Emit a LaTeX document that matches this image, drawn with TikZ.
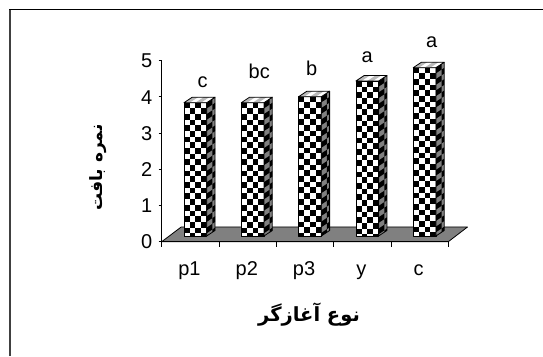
\documentclass[tikz,border=0pt]{standalone}
\usepackage{fontspec}
\setmainfont{Liberation Sans}
\newfontfamily\arabicfont[Script=Arabic]{DejaVu Sans}
\TeXXeTstate=1
\tikzset{
  lab/.style={font=\fontsize{20}{24}\selectfont, inner sep=0pt},
  fa/.style={font=\arabicfont\bfseries\fontsize{19.5}{23}\selectfont, inner sep=0pt},
  fay/.style={font=\arabicfont\bfseries\fontsize{17}{20}\selectfont, inner sep=0pt},
  edge/.style={draw=black, line width=0.8pt, line join=round},
}
\newcommand\cellsz{5.675}
% #1 left x of front face, #2 top Y of front face
\newcommand\chartbar[2]{%
  % front face
  \begin{scope}
    \clip (#1,120) rectangle ({#1+22.7},#2);
    \fill[white] (#1,120) rectangle ({#1+22.7},#2);
    \foreach \j in {0,...,30}{
      \foreach \i in {0,...,3}{
        \pgfmathtruncatemacro\cpar{mod(\i+\j,2)}
        \ifnum\cpar=0
          \fill[black] ({#1+\i*\cellsz},{#2-(\j+1)*\cellsz}) rectangle ++(\cellsz,\cellsz);
        \fi
      }
    }
  \end{scope}
  \draw[edge] (#1,120) rectangle ({#1+22.7},#2);
  % side face
  \begin{scope}[cm={1,0.6627,0,1,({#1+22.7},120)}]
    \clip (0,0) rectangle (8.3,{#2-120});
    \fill[gray] (0,0) rectangle (8.3,{#2-120});
    \foreach \j in {0,...,30}{
      \foreach \i in {0,1}{
        \pgfmathtruncatemacro\cpar{mod(\i+\j,2)}
        \ifnum\cpar=0
          \fill[black] ({\i*\cellsz},{#2-120-(\j+1)*\cellsz}) rectangle ++(\cellsz,\cellsz);
        \fi
      }
    }
  \end{scope}
  \begin{scope}[cm={1,0.6627,0,1,({#1+22.7},120)}]
    \draw[edge] (0,0) rectangle (8.3,{#2-120});
  \end{scope}
  % top face
  \begin{scope}[cm={1,0,1.509,1,(#1,#2)}]
    \fill[white] (0,0) rectangle (22.7,5.5);
    \foreach \i in {0,2}{
      \fill[gray!55] ({\i*\cellsz},0) rectangle ++(\cellsz,5.5);
    }
    \draw[edge] (0,0) rectangle (22.7,5.5);
  \end{scope}
}
\begin{document}
\begin{tikzpicture}[x=1pt,y=1pt]
\useasboundingbox (0,0) rectangle (543,356);
% frame
\draw[line width=2pt, draw=black!75] (10,0) -- (10,346.5);
\draw[line width=1pt, draw=black] (9,346) -- (543,346);
% floor
\filldraw[fill=gray, draw=black, line width=0.8pt, line join=round]
  (161.7,114.3) -- (448.3,114.3) -- (467.5,129) -- (181.2,129) -- cycle;
% axes
\coordinate (o) at (161.7,114.3);
\coordinate (ytop) at (161.7,295.3);
\coordinate (xend) at (448.3,114.3);
\draw[line width=0.8pt] (ytop) -- (o) -- (xend);
\foreach \v in {0,...,5}{
  \draw[line width=0.8pt] (158.5,{114.3+36.2*\v}) -- (161.7,{114.3+36.2*\v});
  \node[lab, anchor=base east] (yl\v) at (152.5,{114.3+36.2*\v-7.2}) {\v};
}
\foreach \k in {0,...,5}{
  \draw[line width=0.8pt] ({161.7+57.32*\k},114.3) -- ({161.7+57.32*\k},108.5);
}
% bars
\chartbar{184}{253.3}
\chartbar{241.3}{253.3}
\chartbar{298.6}{259.3}
\chartbar{355.9}{275}
\chartbar{413.2}{288.3}
% significance letters
\node[lab, anchor=base] (s1) at (202.7,268.7) {c};
\node[lab, anchor=base] (s2) at (259.3,277.7) {bc};
\node[lab, anchor=base] (s3) at (311.7,280) {b};
\node[lab, anchor=base] (s4) at (367.3,293.7) {a};
\node[lab, anchor=base] (s5) at (431.7,308.3) {a};
% category labels
\node[lab, anchor=base] (c1) at (189.5,80) {p1};
\node[lab, anchor=base] (c2) at (246.8,80) {p2};
\node[lab, anchor=base] (c3) at (304.1,80) {p3};
\node[lab, anchor=base] (c4) at (361.4,80) {y};
\node[lab, anchor=base] (c5) at (418.7,80) {c};
% axis titles
\node[fa] (xtitle) at (309,41) {\beginR نوع آغازگر\endR};
\node[fay, rotate=90] (ytitle) at (98.5,188.5) {\beginR نمره بافت\endR};
\end{tikzpicture}
\end{document}
